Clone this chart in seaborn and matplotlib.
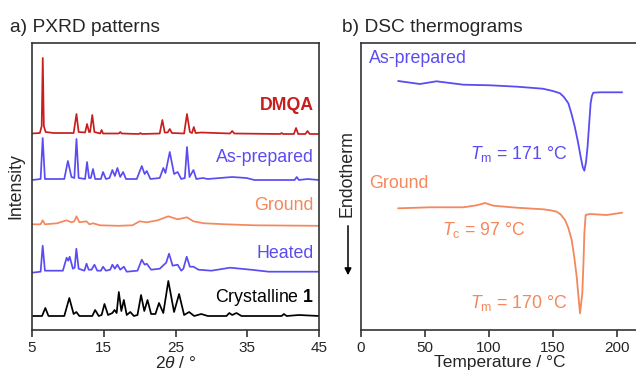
import matplotlib
matplotlib.use("Agg")
import matplotlib.pyplot as plt
import seaborn as sns

# PXRD patterns: 2theta (deg) and intensity above each trace's own baseline (a.u.)
tth_dmqa = [5.0, 6.1, 6.35, 6.5, 6.65, 6.9, 8.0, 10.8, 11.2, 11.5, 12.4, 12.67, 12.95, 13.1, 13.4, 13.7,
            14.5, 14.7, 14.9, 17.1, 17.3, 17.5, 19.9, 20.1, 20.3, 22.8, 23.17, 23.5, 23.9, 24.2, 24.5, 26.2,
            26.6, 27.0, 27.3, 27.55, 27.8, 28.6, 32.6, 32.9, 33.2, 39.6, 39.8, 40.0, 41.5, 41.8, 42.1, 43.1,
            43.4, 43.7, 45.0]
int_dmqa = [0.5, 1, 8, 76, 8, 2, 1, 1, 20, 2, 1.5, 10, 2, 2, 19, 2,
            0.5, 4, 0.5, 0.5, 2, 0.5, 0, 1, 0, 0.5, 14, 1.5, 1.5, 5, 1, 0.5,
            20, 2, 1, 7, 1, 1.5, 0.5, 3, 0.5, 0, 1, 0, 0, 6, 0, 0,
            3, 0, 0]

tth_asprep = [5.0, 6.2, 6.49, 6.8, 9.5, 10.0, 10.5, 10.9, 11.2, 11.5, 12.4, 12.67, 12.95, 13.2, 13.5, 13.8,
              14.6, 14.9, 15.3, 15.8, 16.2, 16.55, 16.9, 17.3, 17.7, 18.1, 19.6, 20.3, 20.7, 21.0, 21.5, 22.8,
              23.3, 23.6, 24.2, 24.8, 25.3, 25.8, 26.3, 26.6, 26.95, 27.5, 27.9, 28.8, 29.5, 32.9, 34.9, 36.0,
              41.6, 41.9, 42.2, 43.4, 45.0]
int_asprep = [0, 1, 42, 1, 1, 19, 3, 2, 41, 2, 1, 18, 2, 2, 11, 1,
              1, 8, 1, 2, 10, 4, 12, 3, 8, 1, 1, 14, 6, 9, 1, 2,
              12, 7, 28, 6, 8, 1, 2, 33, 3, 10, 1, 2, 1, 3, 2, 0,
              0, 3, 0, 1, 0]

tth_ground = [5.0, 6.2, 6.49, 6.8, 8.5, 9.8, 10.5, 10.9, 11.2, 11.6, 12.6, 13.0, 13.5, 14.5, 17.0, 19.0,
              20.0, 21.0, 22.5, 24.0, 25.3, 26.6, 27.5, 29.0, 32.0, 36.0, 45.0]
int_ground = [1, 1, 5, 1, 2, 5, 3, 4, 9, 3, 4, 1, 2, 0, -0.5, 0,
              4, 3, 5, 9, 6, 8, 4, 2, 1, 0, -0.5]

tth_heated = [5.0, 6.2, 6.49, 6.8, 9.3, 9.83, 10.05, 10.25, 10.7, 10.95, 11.18, 11.5, 12.3, 12.6, 12.9, 13.3,
              13.7, 14.1, 14.6, 14.9, 15.3, 15.9, 16.2, 16.55, 16.9, 17.3, 17.8, 18.2, 19.7, 20.3, 20.7, 21.0,
              21.6, 22.8, 23.4, 23.7, 24.1, 24.6, 25.3, 25.8, 26.1, 26.56, 27.0, 27.5, 28.2, 30.0, 32.6, 35.5,
              38.0, 45.0]
int_heated = [-1, 0, 26, 1, 1, 14, 11, 15, 3, 4, 23, 3, 1, 8, 2, 2,
              7, 1, 1, 5, 1, 2, 7, 3, 7, 2, 5, 0, 1, 12, 7, 8,
              2, 3, 7, 9, 18, 6, 7, 1, 3, 15, 5, 5, 2, 1, 4, 2,
              0, 0]

tth_cryst = [5.0, 6.4, 6.86, 7.3, 9.5, 10.2, 10.8, 11.18, 11.6, 13.4, 13.8, 14.3, 14.7, 15.1, 15.6, 16.2,
             16.5, 16.8, 17.1, 17.45, 17.8, 18.2, 18.7, 19.2, 19.7, 20.2, 20.65, 21.1, 21.6, 22.2, 22.7, 23.3,
             24.0, 24.8, 25.5, 26.2, 26.9, 27.6, 28.6, 29.5, 32.1, 32.5, 32.9, 33.5, 34.2, 39.8, 40.1, 40.5,
             42.2, 45.0]
int_cryst = [0, 0, 8, 0, 0, 18, 2, 4, 0, 0, 6, 0, 1, 12, 1, 3,
             6, 3, 24, 5, 16, 1, 4, 0, 1, 21, 5, 16, 2, 2, 13, 3,
             35, 4, 22, 1, 4, 0, 2, 0, 0, 3, 1, 3, 0, 0, 2, 0,
             1, 0]

# DSC thermograms: temperature (C) and heat flow relative to baseline (a.u.)
temp_asprep = [29, 46, 59, 80, 101, 122, 142, 150, 155.5, 158.5, 162, 164.5, 167, 169.5, 171.6, 173.2,
               174.5, 175.8, 177, 178.2, 179.4, 180.4, 181.5, 186.7, 204]
hf_asprep = [9, 6, 8.7, 5.3, 4.7, 3.3, 1.3, -1, -3.3, -7, -13.3, -24, -36.7, -52, -66.7, -77,
             -80.7, -72, -56.7, -35, -13.3, -6, -2.7, -2.3, -2.3]

temp_ground = [29, 54, 80, 90.4, 96.9, 103.4, 121.6, 142.4, 148, 152.9, 156, 159.4, 162, 164.6, 166.7,
               168.5, 171.1, 172.9, 173.8, 174.5, 175.5, 178.9, 191.9, 204]
hf_ground = [-0.3, 0.7, 0.7, 2.7, 5, 2.3, 0.3, -1.3, -2.3, -3.7, -6.5, -12, -20, -32, -50,
             -68.7, -105.3, -85.3, -55, -25.3, -7, -6, -7, -4.7]

red = "#c81e1e"
blue = "#5b4cf2"
orange = "#f4875c"

sns.set_theme(style="ticks")
plt.rcParams["font.family"] = ["Liberation Sans", "DejaVu Sans"]
plt.rcParams["mathtext.fontset"] = "custom"
plt.rcParams["mathtext.rm"] = "Liberation Sans"
plt.rcParams["mathtext.it"] = "Liberation Sans:italic"
plt.rcParams["mathtext.bf"] = "Liberation Sans:bold"

W, H = 636, 374
fig = plt.figure(figsize=(W / 100, H / 100), dpi=100)
ax1 = fig.add_axes([32 / W, 44 / H, 287 / W, 287 / H])
ax2 = fig.add_axes([361 / W, 44 / H, 277 / W, 287 / H])

# a) PXRD, stacked with vertical offsets
traces = [
    (tth_dmqa, int_dmqa, 196, red, "DMQA", 224),
    (tth_asprep, int_asprep, 150, blue, "As-prepared", 172),
    (tth_ground, int_ground, 104.7, orange, "Ground", 124),
    (tth_heated, int_heated, 58.3, blue, "Heated", 77),
    (tth_cryst, int_cryst, 14, "black", r"Crystalline $\mathbf{1}$", 32),
]
for tth, inten, off, col, lab, ty in traces:
    sns.lineplot(x=tth, y=[v + off for v in inten], ax=ax1, color=col, lw=1.25, estimator=None)
    ax1.text(44.3, ty, lab, color=col, fontsize=12.8, ha="right", va="center",
             fontweight="bold" if lab == "DMQA" else "normal")

ax1.set_xlim(5, 45)
ax1.set_ylim(0, 287)
ax1.set_xticks([5, 15, 25, 35, 45])
ax1.set_yticks([])
ax1.set_xlabel(r"2$\it{\theta}$ / °", fontsize=12.5, labelpad=0)
ax1.set_ylabel("")

# b) DSC
sns.lineplot(x=temp_asprep, y=[v + 240 for v in hf_asprep], ax=ax2, color=blue, lw=1.3, estimator=None)
sns.lineplot(x=temp_ground, y=[v + 122 for v in hf_ground], ax=ax2, color=orange, lw=1.3, estimator=None)
ax2.text(6.5, 271.7, "As-prepared", color=blue, fontsize=12.8, ha="left", va="center")
ax2.text(161.7, 176, r"$T_\mathrm{m}$ = 171 °C", color=blue, fontsize=12.8, ha="right", va="center")
ax2.text(6.5, 146, "Ground", color=orange, fontsize=12.8, ha="left", va="center")
ax2.text(128.9, 100, r"$T_\mathrm{c}$ = 97 °C", color=orange, fontsize=12.8, ha="right", va="center")
ax2.text(161.7, 27, r"$T_\mathrm{m}$ = 170 °C", color=orange, fontsize=12.8, ha="right", va="center")

ax2.set_xlim(0, 277 / 1.28)
ax2.set_ylim(0, 287)
ax2.set_xticks([0, 50, 100, 150, 200])
ax2.set_yticks([])
ax2.set_xlabel("Temperature / °C", fontsize=12.5, labelpad=0)
ax2.set_ylabel("")

for ax in (ax1, ax2):
    for s in ax.spines.values():
        s.set_visible(True)
        s.set_linewidth(1.2)
        s.set_color("#333333")
    ax.tick_params(axis="x", direction="out", length=5, width=1.2, labelsize=11, pad=3, color="#333333")

fig.text(10 / W, 1 - 27 / H, "a) PXRD patterns", fontsize=13.8, ha="left", va="center")
fig.text(342 / W, 1 - 27 / H, "b) DSC thermograms", fontsize=13.8, ha="left", va="center")
fig.text(16 / W, 1 - 186 / H, "Intensity", fontsize=12.8, rotation=90, ha="center", va="center")
fig.text(347 / W, 1 - 174 / H, "Endotherm", fontsize=12.8, rotation=90, ha="center", va="center")
fig.add_artist(matplotlib.patches.FancyArrowPatch(
    (348 / W, 1 - 223 / H), (348 / W, 1 - 278 / H), transform=fig.transFigure,
    arrowstyle="-|>,head_length=4,head_width=2", color="black", lw=1.1))

fig.savefig("out.png", dpi=100)
